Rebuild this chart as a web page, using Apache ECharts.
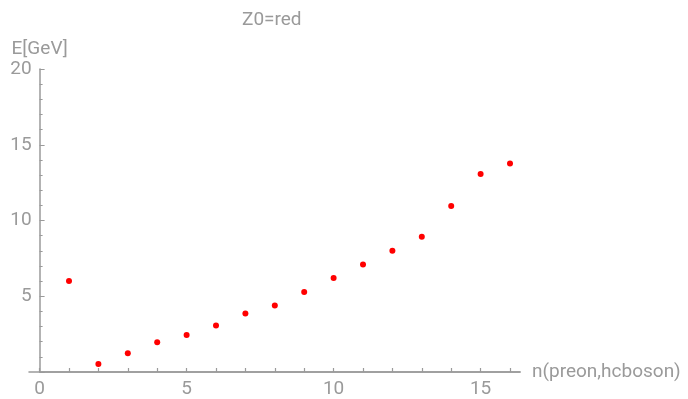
<!DOCTYPE html>
<html>
<head>
<meta charset="utf-8">
<script src="https://cdn.jsdelivr.net/npm/echarts@6/dist/echarts.min.js"></script>
<style>
    html, body { margin: 0; padding: 0; background: #fff; }
    #chart { width: 688px; height: 399px; }
</style>
</head>
<body>
<div id="chart"></div>
<script>
// 数据
var nValues = [1, 2, 3, 4, 5, 6, 7, 8, 9, 10, 11, 12, 13, 14, 15, 16];
var energy = [6.0, 0.53, 1.24, 1.97, 2.45, 3.07, 3.86, 4.39, 5.28, 6.2, 7.09, 8.01, 8.92, 10.95, 13.07, 13.77];
var labelStep = 5;

(function () {
    var myChart = echarts.init(document.getElementById('chart'));
    var gray = '#9a9a9a';
    var font = 'Roboto';

    var points = [];
    for (var i = 0; i < nValues.length; i++) {
        points.push([nValues[i], energy[i]]);
    }

    var option = {
        animation: false,
        title: {
            text: 'Z0=red',
            left: 237,
            top: 6,
            textStyle: { color: gray, fontSize: 19, fontWeight: 'normal', fontFamily: font }
        },
        grid: [
            // 主坐标系
            { left: 39.6, right: 168, top: 69, bottom: 27 },
            // x轴在y轴左边露出的一小段
            { left: 29, right: 168, top: 69, bottom: 27 }
        ],
        xAxis: [
            {
                type: 'value',
                gridIndex: 0,
                min: 0,
                max: 16.34,
                interval: 1,
                name: 'n(preon,hcboson)',
                nameLocation: 'end',
                nameGap: 12,
                nameTextStyle: { color: gray, fontSize: 19, fontFamily: font },
                splitLine: { show: false },
                axisLine: { lineStyle: { color: gray, width: 1.5 } },
                axisTick: { show: true, inside: true, length: 4, lineStyle: { color: gray, width: 1.2 } },
                axisLabel: {
                    color: gray,
                    fontSize: 19,
                    fontFamily: font,
                    margin: 8,
                    showMaxLabel: false,
                    formatter: function (v) { return v % labelStep === 0 ? v : ''; }
                }
            },
            {
                type: 'value',
                gridIndex: 1,
                min: 0,
                max: 1,
                splitLine: { show: false },
                axisLine: { lineStyle: { color: gray, width: 1.5 } },
                axisTick: { show: false },
                axisLabel: { show: false }
            }
        ],
        yAxis: [
            {
                type: 'value',
                gridIndex: 0,
                min: 0,
                max: 20,
                interval: 5,
                name: 'E[GeV]',
                nameLocation: 'end',
                nameGap: 10,
                nameTextStyle: { color: gray, fontSize: 19, fontFamily: font },
                splitLine: { show: false },
                axisLine: { show: true, lineStyle: { color: gray, width: 1.5 } },
                axisTick: { show: true, inside: true, length: 5, lineStyle: { color: gray } },
                minorTick: { show: true, splitNumber: 5, length: 3, lineStyle: { color: gray } },
                axisLabel: {
                    color: gray,
                    fontSize: 19,
                    fontFamily: font,
                    margin: 8,
                    formatter: function (v) { return v === 0 ? '' : v; }
                }
            },
            {
                type: 'value',
                gridIndex: 1,
                min: 0,
                max: 1,
                show: false
            }
        ],
        series: [
            {
                type: 'scatter',
                xAxisIndex: 0,
                yAxisIndex: 0,
                data: points,
                symbolSize: 6,
                itemStyle: { color: '#ff0000', opacity: 1 }
            }
        ]
    };

    myChart.setOption(option);
})();
</script>
</body>
</html>
